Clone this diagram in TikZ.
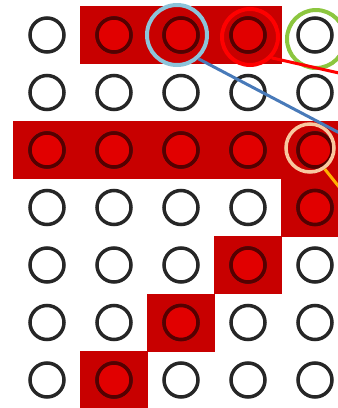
\documentclass[tikz,border=0pt]{standalone}
\usepackage{xcolor}
\usepackage{tikz}

\definecolor{cellred}{RGB}{200,0,0}
\definecolor{dotred}{RGB}{225,0,0}
\definecolor{dotring}{RGB}{85,0,0}
\definecolor{ringblue}{RGB}{140,196,218}
\definecolor{ringgreen}{RGB}{140,198,63}
\definecolor{ringpeach}{RGB}{248,200,160}
\definecolor{lineblue}{RGB}{72,122,185}
\definecolor{lineorange}{RGB}{255,176,0}

\begin{document}
\begin{tikzpicture}[x=1pt,y=-1pt,
    dot/.style={circle,draw=black!85,line width=3.5pt,minimum size=34pt,inner sep=0pt},
    reddot/.style={dot,draw=dotring,fill=dotred},
    ring/.style={circle,line width=4pt,inner sep=0pt}]
    \clip (0,0) rectangle (338,408);

    % red cells behind the dots
    \foreach \r/\c in {1/2,1/3,1/4,3/1,3/2,3/3,3/4,3/5,4/5,5/4,6/3,7/2}
        \fill[cellred] ({47+67*(\c-1)-34},{35+57.5*(\r-1)-29}) rectangle ++(68,58);

    % grid of dots
    \foreach \r in {1,...,7}
        \foreach \c in {1,...,5}
            \node[dot] (c-\r-\c) at ({47+67*(\c-1)},{35+57.5*(\r-1)}) {};
    \foreach \r/\c in {1/2,1/3,1/4,3/1,3/2,3/3,3/4,3/5,4/5,5/4,6/3,7/2}
        \node[reddot] at (c-\r-\c) {};

    % highlight rings
    \node[ring,draw=ringblue,minimum size=60pt] (hlblue) at (177,35) {};
    \node[ring,draw=red,minimum size=56pt] (hlred) at (250,37) {};
    \node[ring,draw=ringgreen,minimum size=58pt] (hlgreen) at (316,39) {};
    \node[ring,draw=ringpeach,line width=3.5pt,minimum size=48pt] (hlpeach) at (310,148) {};

    % leads running off to the right
    \coordinate (blueend) at (370,149);
    \coordinate (redend) at (370,80);
    \coordinate (orangeend) at (360,213);
    \draw[lineblue,line width=3pt] (hlblue.-48) -- (blueend);
    \draw[red,line width=3pt] (hlred.-44) -- (redend);
    \draw[lineorange,line width=3pt] (hlpeach.-55) -- (orangeend);
\end{tikzpicture}
\end{document}
